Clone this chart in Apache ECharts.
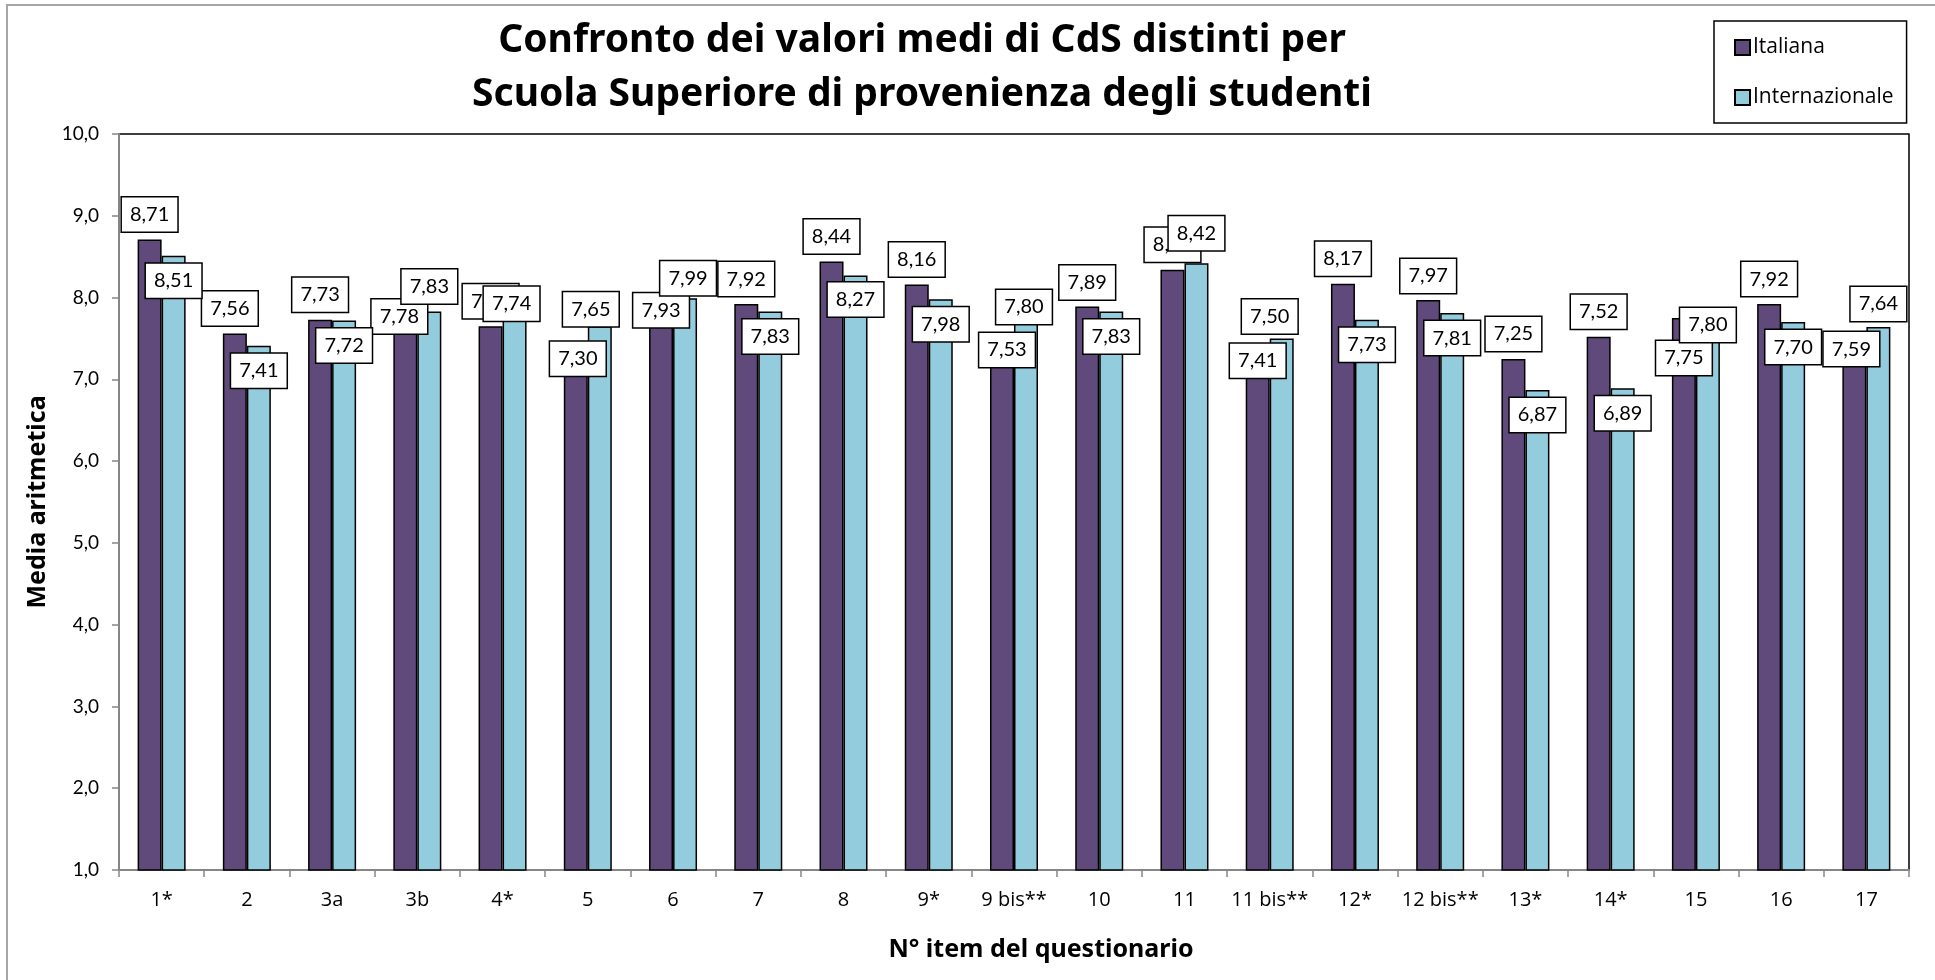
<!DOCTYPE html>
<html>
<head>
<meta charset="utf-8">
<script src="https://cdn.jsdelivr.net/npm/echarts@6/dist/echarts.min.js"></script>
<style>
html,body{margin:0;padding:0;background:#fff;}
#chart{width:1935px;height:980px;}
</style>
</head>
<body>
<div id="chart"></div>
<script>
// ---- data ----
const categories = ['1*','2','3a','3b','4*','5','6','7','8','9*','9 bis**','10','11','11 bis**','12*','12 bis**','13*','14*','15','16','17'];
const italiana = [8.71,7.56,7.73,7.78,7.65,7.30,7.93,7.92,8.44,8.16,7.53,7.89,8.34,7.41,8.17,7.97,7.25,7.52,7.75,7.92,7.59];
const internazionale = [8.51,7.41,7.72,7.83,7.74,7.65,7.99,7.83,8.27,7.98,7.80,7.83,8.42,7.50,7.73,7.81,6.87,6.89,7.80,7.70,7.64];
const yTicks = [1,2,3,4,5,6,7,8,9,10];

// ---- label placement styling (offset of label centre from bar top, px) ----
const labelDyItaliana = [-25,-25,-25,1,-25,4,7,-25,-25,-25,14,-24,-25,15,-25,-24,-25,-25,40,-25,18];
const labelDyIntern   = [25,25,25,-25,-15,-17,-20,25,24,25,-7,25,-30,-22,25,25,25,25,11,25,-23];
const labelDxItaliana = [0,-5,0,-6,0,2,0,0,0,0,5,0,0,0,0,0,0,0,0,0,-3];
const labelDxIntern   = [0,0,0,0,-3,-9,3,0,0,0,-2,0,0,-12,0,0,0,0,0,0,0];

const comma = (v, d) => v.toFixed(d).replace('.', ',');

function buildData(vals, dys, dxs) {
  return vals.map((v, i) => ({
    value: v,
    label: { position: ['50%', dys[i]], offset: [dxs[i], 0] }
  }));
}

const labelStyle = {
  show: true,
  align: 'center',
  verticalAlign: 'middle',
  formatter: p => comma(p.value, 2),
  fontFamily: 'Lato, "Open Sans", sans-serif',
  fontSize: 20,
  lineHeight: 22,
  color: '#000',
  backgroundColor: '#fff',
  borderColor: '#000',
  borderWidth: 1.5,
  padding: [6, 8]
};

const chart = echarts.init(document.getElementById('chart'), null, {renderer: 'canvas'});
chart.setOption({
  animation: false,
  backgroundColor: '#fff',
  graphic: [{
    type: 'rect', silent: true, z: -10,
    shape: {x: 7, y: 5, width: 2000, height: 1100},
    style: {fill: 'none', stroke: '#a6a6a6', lineWidth: 2}
  }],
  title: {
    text: 'Confronto dei valori medi di CdS distinti per\nScuola Superiore di provenienza degli studenti',
    left: 922,
    top: 14,
    padding: 0,
    textAlign: 'center',
    textStyle: {
      fontFamily: '"Noto Sans", "DejaVu Sans", sans-serif',
      fontWeight: 'bold',
      fontSize: 39,
      lineHeight: 54,
      color: '#000'
    }
  },
  legend: {
    orient: 'vertical',
    left: 1714,
    top: 21,
    padding: [16, 13, 15, 20],
    itemGap: 29,
    itemWidth: 15,
    itemHeight: 15,
    borderColor: '#000',
    borderWidth: 1.5,
    backgroundColor: '#fff',
    icon: 'rect',
    textStyle: {
      fontFamily: '"Open Sans", "DejaVu Sans", sans-serif',
      fontSize: 21,
      lineHeight: 16,
      color: '#000',
      padding: [0, 0, 0, -2]
    },
    data: ['Italiana', 'Internazionale']
  },
  grid: {
    left: 119, right: 26, top: 134, bottom: 110,
    show: true, borderColor: '#000', borderWidth: 1.5, backgroundColor: '#fff'
  },
  xAxis: {
    type: 'category',
    data: categories,
    name: 'N° item del questionario',
    nameLocation: 'middle',
    nameGap: 67,
    nameTextStyle: {
      fontFamily: '"Noto Sans", "DejaVu Sans", sans-serif',
      fontWeight: 'bold', fontSize: 25, color: '#000',
      padding: [0, 0, 0, 54]
    },
    axisLine: {lineStyle: {color: '#868686', width: 2}},
    axisTick: {show: true, length: 7, lineStyle: {color: '#868686', width: 1.5}},
    axisLabel: {
      margin: 20, fontFamily: '"Open Sans", "DejaVu Sans", sans-serif',
      fontSize: 20, color: '#000', interval: 0
    },
    splitLine: {show: false}
  },
  yAxis: {
    type: 'value',
    min: yTicks[0],
    max: yTicks[yTicks.length - 1],
    interval: 1,
    name: 'Media aritmetica',
    nameLocation: 'middle',
    nameGap: 67,
    nameTextStyle: {
      fontFamily: '"Noto Sans", "DejaVu Sans", sans-serif',
      fontWeight: 'bold', fontSize: 25, color: '#000'
    },
    axisLine: {show: true, lineStyle: {color: '#868686', width: 2}},
    axisTick: {show: true, length: 7, lineStyle: {color: '#868686', width: 1.5}},
    axisLabel: {
      margin: 20, fontFamily: 'Lato, "Open Sans", sans-serif',
      fontSize: 19, color: '#000',
      formatter: v => comma(v, 1)
    },
    splitLine: {show: false}
  },
  series: [
    {
      name: 'Italiana', type: 'bar',
      data: buildData(italiana, labelDyItaliana, labelDxItaliana),
      barWidth: 24, barGap: '0%',
      itemStyle: {color: '#604A7B', borderColor: '#000', borderWidth: 1.5},
      label: labelStyle
    },
    {
      name: 'Internazionale', type: 'bar',
      data: buildData(internazionale, labelDyIntern, labelDxIntern),
      barWidth: 24, barGap: '0%',
      itemStyle: {color: '#93CDDD', borderColor: '#000', borderWidth: 1.5},
      label: labelStyle
    }
  ]
});
</script>
</body>
</html>
